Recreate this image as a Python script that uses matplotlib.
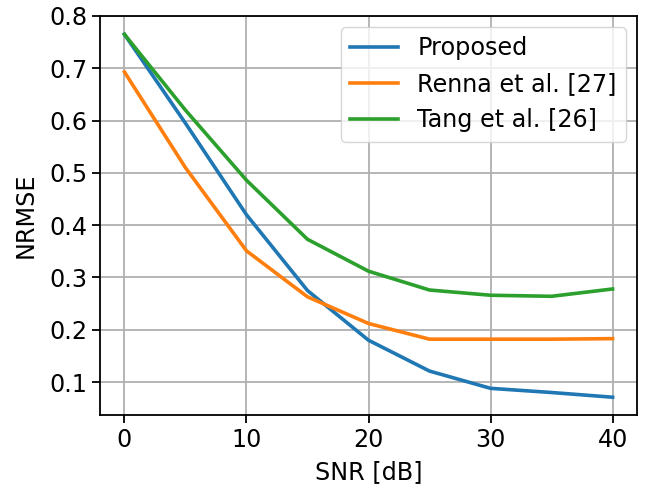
import numpy as np
import matplotlib.pyplot as plt

# Dados
snr = [0, 5, 10, 15, 20, 25, 30, 35, 40]
proposed = [0.765, 0.595, 0.42, 0.275, 0.18, 0.121, 0.088, 0.080, 0.071]
renna = [0.693, 0.51, 0.351, 0.263, 0.212, 0.182, 0.182, 0.182, 0.183]
tang = [0.765, 0.62, 0.486, 0.373, 0.312, 0.276, 0.266, 0.264, 0.278]

plt.rcParams['font.size'] = 17.2
plt.rcParams['axes.linewidth'] = 1.3
plt.rcParams['xtick.major.size'] = 5.8
plt.rcParams['ytick.major.size'] = 5.8
plt.rcParams['xtick.major.width'] = 1.3
plt.rcParams['ytick.major.width'] = 1.3

fig = plt.figure(figsize=(6.46, 4.88), dpi=100)
ax = fig.add_axes([100 / 646, 1 - 415 / 488, 537 / 646, 399 / 488])

ax.plot(snr, proposed, label='Proposed', linewidth=2.6)
ax.plot(snr, renna, label='Renna et al. [27]', linewidth=2.6)
ax.plot(snr, tang, label='Tang et al. [26]', linewidth=2.6)

ax.set_xlim(-2, 42)
ax.set_ylim(0.037, 0.8)
ax.set_xticks([0, 10, 20, 30, 40])
ax.set_xlabel('SNR [dB]', labelpad=6)
ax.set_ylabel('NRMSE', labelpad=8)
ax.grid(linewidth=1.3)
ax.legend(loc='upper right', borderaxespad=0.45)

fig.savefig('out.png', dpi=100)
